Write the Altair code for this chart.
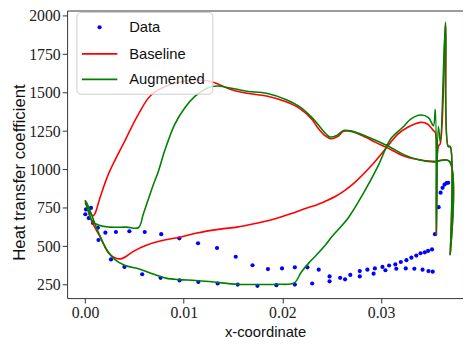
import altair as alt
import pandas as pd

# ---------------- data ----------------
base_x = [0.0000, 0.0002, 0.0007, 0.0015, 0.0024, 0.0032, 0.0037, 0.0043, 0.0049, 0.0062,
          0.0078, 0.0095, 0.0112, 0.0137, 0.0154, 0.0170, 0.0190, 0.0210, 0.0227, 0.0234,
          0.0244, 0.0254, 0.0264, 0.0274, 0.0290, 0.0305, 0.0317, 0.0327, 0.0340, 0.0347,
          0.0353, 0.0355, 0.0356, 0.0358, 0.0360, 0.03653, 0.0368, 0.0370, 0.0370, 0.0369,
          0.0353, 0.0336, 0.0323, 0.0307, 0.0295, 0.0284, 0.0275, 0.0268, 0.0262, 0.0256,
          0.0249, 0.0243, 0.0236, 0.0230, 0.0217, 0.0203, 0.0184, 0.0164, 0.0147, 0.0134,
          0.0124, 0.0107, 0.0087, 0.0067, 0.0054, 0.0041, 0.0024, 0.0015, 0.0010, 0.0008,
          0.0004, 0.0000]
base_y = [785, 755, 660, 565, 455, 421, 420, 440, 467, 507,
          538, 558, 585, 612, 625, 645, 675, 715, 755, 768,
          795, 826, 868, 920, 1024, 1139, 1230, 1275, 1307, 1296,
          1254, 1240, 572, 1150, 1170, 1955, 1150, 1150, 446, 1055,
          1053, 1067, 1088, 1139, 1175, 1211, 1238, 1250, 1249, 1215,
          1200, 1221, 1270, 1326, 1400, 1442, 1478, 1497, 1523, 1559,
          1578, 1580, 1555, 1485, 1359, 1195, 975, 813, 712, 698,
          735, 785]

aug_x = [0.0000, 0.0002, 0.0007, 0.0014, 0.0022, 0.0030, 0.0040, 0.0055, 0.0069, 0.0082,
         0.0095, 0.0112, 0.0130, 0.0154, 0.0174, 0.0194, 0.0212, 0.0219, 0.0227, 0.0234,
         0.0244, 0.0250, 0.0267, 0.0283, 0.0297, 0.0310, 0.0322, 0.0330, 0.0340, 0.0348,
         0.0353, 0.0355, 0.0356, 0.0358, 0.0360, 0.03653, 0.0368, 0.0370, 0.0370, 0.0369,
         0.0353, 0.0337, 0.0323, 0.0307, 0.0283, 0.0270, 0.0262, 0.0255, 0.0248, 0.0244,
         0.0230, 0.0217, 0.0204, 0.0184, 0.0164, 0.0147, 0.0134, 0.0124, 0.0111, 0.0101,
         0.0091, 0.0081, 0.0074, 0.0069, 0.0059, 0.0054, 0.0042, 0.0025, 0.0015, 0.0007,
         0.0002, 0.0000]
aug_y = [800, 780, 698, 583, 478, 415, 377, 352, 320, 293,
         283, 278, 268, 253, 251, 253, 262, 331, 394, 440,
         512, 562, 688, 856, 1024, 1202, 1275, 1328, 1355, 1338,
         1285, 1390, 575, 1280, 1180, 1960, 1150, 1150, 446, 1055,
         1049, 1065, 1097, 1153, 1222, 1250, 1254, 1222, 1212, 1233,
         1338, 1411, 1454, 1496, 1510, 1531, 1544, 1531, 1474, 1401,
         1296, 1128, 982, 898, 709, 621, 625, 625, 635, 667,
         760, 800]

data_x = [0.00003, 0.0001, 0.0006, 0.00037, 0.0008, 0.0013, 0.00136, 0.00206, 0.00313, 0.00449,
          0.00605, 0.00772, 0.00955, 0.01145, 0.01337, 0.01527, 0.01697, 0.01853, 0.01996, 0.02126,
          0.02253, 0.02368, 0.02478, 0.02585, 0.02688, 0.02784, 0.02861, 0.02937, 0.03014, 0.03081,
          0.03144, 0.03200, 0.03257, 0.03307, 0.03357, 0.03400, 0.03443, 0.03476, 0.03516,
          0.00263, 0.00399, 0.00579, 0.00765, 0.00958, 0.01148, 0.01344, 0.01547, 0.01747, 0.01939,
          0.02126, 0.02302, 0.02478, 0.02635, 0.02784, 0.02924, 0.03044, 0.03154, 0.03250, 0.03337,
          0.03420, 0.03480, 0.03523,
          0.03546, 0.03583, 0.03603, 0.03623, 0.03643, 0.03663, 0.03680]
data_y = [709, 740, 750, 684, 652, 621, 541, 589, 593, 598,
          593, 579, 552, 520, 489, 432, 377, 352, 356, 363,
          363, 348, 304, 295, 314, 339, 348, 356, 366, 375,
          382, 398, 410, 426, 440, 455, 461, 470, 480,
          415, 366, 318, 295, 278, 268, 258, 251, 243, 247,
          251, 258, 272, 285, 304, 322, 344, 354, 356, 354,
          348, 339, 335,
          579, 755, 849, 881, 902, 912, 914]

series_names = ["Data", "Baseline", "Augmented"]
series_colors = ["#0000ff", "#ff0000", "#008000"]
x_ticks = [0.0, 0.01, 0.02, 0.03]
y_ticks = [250, 500, 750, 1000, 1250, 1500, 1750, 2000]

# ---------------- tables ----------------
base_df = pd.DataFrame({"x": base_x, "y": base_y, "series": series_names[1],
                        "order": list(range(len(base_x)))})
aug_df = pd.DataFrame({"x": aug_x, "y": aug_y, "series": series_names[2],
                       "order": list(range(len(aug_x)))})
pts_df = pd.DataFrame({"x": data_x, "y": data_y, "series": series_names[0]})

color = alt.Color("series:N", scale=alt.Scale(domain=series_names, range=series_colors),
                  legend=None)

xenc = alt.X("x:Q", scale=alt.Scale(domain=[-0.00182, 0.0383], nice=False, zero=False),
             axis=alt.Axis(values=x_ticks, format=".2f", title="x-coordinate",
                           titleFont="Liberation Sans", titleFontSize=15,
                           titlePadding=4))
yenc = alt.Y("y:Q", scale=alt.Scale(domain=[163, 2035], nice=False, zero=False),
             axis=alt.Axis(values=y_ticks, format="d", title="Heat transfer coefficient",
                           titleFont="Liberation Sans", titleFontSize=17,
                           titleX=-48, titleY=164, titleAngle=270,
                           titleAlign="center", titleBaseline="middle"))

points = alt.Chart(pts_df).mark_circle(size=18, opacity=1).encode(x=xenc, y=yenc, color=color)
red = alt.Chart(base_df).mark_line(strokeWidth=1.6, interpolate="catmull-rom").encode(
    x=xenc, y=yenc, color=color, order="order:Q")
green = alt.Chart(aug_df).mark_line(strokeWidth=1.6, interpolate="catmull-rom").encode(
    x=xenc, y=yenc, color=color, order="order:Q")

# ---------------- legend box (matplotlib style) ----------------
def one(label):
    return pd.DataFrame({"label": [label]})

leg_box = alt.Chart(one("box")).mark_rect(
    fill="white", fillOpacity=0.8, stroke="#cccccc", strokeWidth=1, cornerRadius=4
).encode(x=alt.value(10), x2=alt.value(148), y=alt.value(2), y2=alt.value(85))

leg_dot = alt.Chart(one(series_names[0])).mark_circle(
    size=18, opacity=1, color=series_colors[0]
).encode(x=alt.value(33), y=alt.value(17))

leg_red = alt.Chart(one(series_names[1])).mark_rule(
    color=series_colors[1], strokeWidth=1.8
).encode(x=alt.value(15), x2=alt.value(51), y=alt.value(44))

leg_green = alt.Chart(one(series_names[2])).mark_rule(
    color=series_colors[2], strokeWidth=1.8
).encode(x=alt.value(15), x2=alt.value(51), y=alt.value(70))

def leg_text(label, ypos):
    return alt.Chart(one(label)).mark_text(
        align="left", baseline="middle", font="Liberation Sans", fontSize=15, color="#111111"
    ).encode(x=alt.value(63), y=alt.value(ypos), text="label:N")

chart = alt.layer(
    points, red, green, leg_box, leg_dot, leg_red, leg_green,
    leg_text(series_names[0], 17), leg_text(series_names[1], 44), leg_text(series_names[2], 70)
).properties(
    width=402, height=292,
    padding={"left": 60, "top": 0, "right": 0, "bottom": 40},
    autosize=alt.AutoSizeParams(type="none"),
).configure_view(
    stroke="#333333", strokeWidth=1
).configure_axis(
    grid=False, domain=False, labelFont="Liberation Serif", labelFontSize=16,
    labelColor="#222222", tickColor="#333333", tickSize=5, tickWidth=1,
    labelPadding=2, titleFontWeight="normal", titleColor="#111111"
)

chart.save("out.html", embed_options={"renderer": "svg", "actions": False})
